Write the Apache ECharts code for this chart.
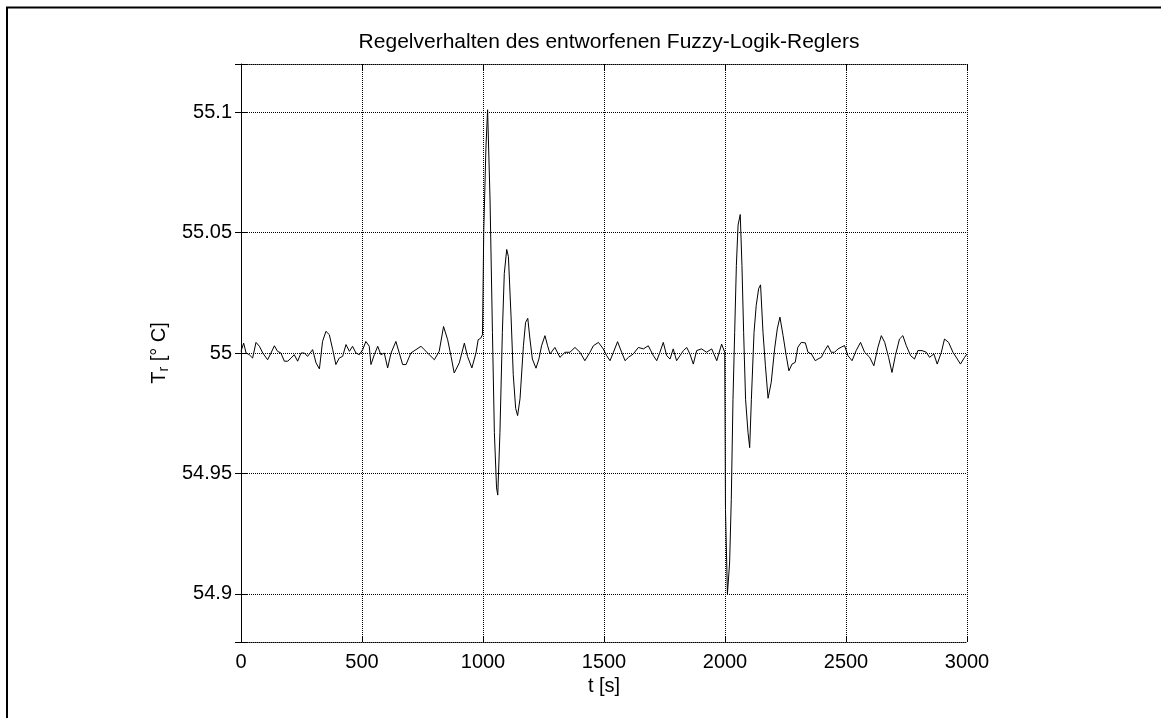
<!DOCTYPE html>
<html>
<head>
<meta charset="utf-8">
<script src="https://cdn.jsdelivr.net/npm/echarts@6/dist/echarts.min.js"></script>
<style>
html,body{margin:0;padding:0;background:#fff;}
#c{width:1161px;height:718px;}
</style>
</head>
<body>
<div id="c"></div>
<script>
// ---- data ----
var titleText = 'Regelverhalten des entworfenen Fuzzy-Logik-Reglers';
var xTicks = [0, 500, 1000, 1500, 2000, 2500, 3000];
var yTickLabels = ['54.9', '54.95', '55', '55.05', '55.1'];

// quiet phase 0 .. 1000 s
var tA = [0,11,21,34,48,62,76,90,110,124,138,151,165,179,193,207,220,234,248,262,275,296,310,324,337,351,365,379,392,406,420,434,448,461,475,489,503,516,530,537,551,565,578,592,606,620,640,654,668,682,702,723,744,757,778,799,819,837,854,868,881,902,923,936,954,971,980,991,998];
var vA = [55.0007,55.0041,55.0000,54.9993,54.9979,55.0044,55.0028,55.0000,54.9972,55.0000,55.0030,55.0007,55.0000,54.9966,54.9966,54.9979,54.9993,54.9966,55.0000,55.0000,54.9986,55.0014,54.9959,54.9934,55.0048,55.0090,55.0076,55.0014,54.9952,54.9979,54.9986,55.0035,55.0007,55.0028,55.0000,54.9993,55.0014,55.0048,55.0028,54.9952,54.9993,55.0028,54.9993,55.0000,54.9938,55.0000,55.0048,55.0000,54.9952,54.9952,55.0000,55.0014,55.0028,55.0014,54.9993,54.9972,55.0007,55.0110,55.0055,54.9986,54.9917,54.9959,55.0041,54.9986,54.9938,55.0000,55.0055,55.0062,55.0076];

// first disturbance at 1000 s
var tB = [1001,1003,1012,1019,1029,1039,1047,1056,1061,1070,1080,1088,1098,1105,1116,1125,1135,1143,1153,1167,1176,1185,1194,1204,1219,1231,1242,1256,1267];
var vB = [55.0076,55.0500,55.0850,55.1010,55.0640,55.0086,54.9670,54.9440,54.9410,54.9670,55.0086,55.0330,55.0430,55.0400,55.0150,54.9910,54.9770,54.9740,54.9810,55.0030,55.0127,55.0144,55.0058,54.9975,54.9937,54.9975,55.0030,55.0072,55.0030];

// quiet phase 1277 .. 2000 s
var tC = [1277,1297,1318,1339,1359,1380,1401,1421,1442,1456,1477,1497,1511,1525,1539,1556,1573,1587,1601,1621,1642,1663,1683,1704,1718,1731,1745,1759,1773,1786,1800,1814,1828,1842,1855,1869,1883,1903,1924,1945,1966,1986,1992,1999];
var vC = [54.9996,55.0023,54.9982,55.0003,55.0003,55.0023,55.0003,54.9968,55.0003,55.0030,55.0044,55.0017,54.9989,54.9968,55.0003,55.0047,55.0003,54.9968,54.9982,54.9996,55.0023,55.0017,55.0030,54.9989,54.9968,55.0003,55.0044,54.9989,54.9975,55.0017,54.9968,54.9989,55.0010,55.0023,54.9996,54.9954,55.0010,55.0017,55.0003,55.0017,54.9968,55.0037,55.0044,55.0003];

// second disturbance at 2000 s
var tD = [2002,2010,2016,2019,2026,2033,2040,2047,2054,2063,2070,2077,2085,2095,2102,2109,2120,2129,2139,2147,2157,2167,2178,2191,2205,2216,2227,2240,2253,2264,2277,2290];
var vD = [54.9350,54.9000,54.9000,54.9128,54.9392,54.9808,55.0086,55.0364,55.0531,55.0575,55.0364,55.0086,54.9808,54.9671,54.9607,54.9808,55.0086,55.0197,55.0267,55.0283,55.0086,54.9947,54.9812,54.9878,55.0017,55.0100,55.0149,55.0072,54.9989,54.9926,54.9954,54.9961];

// quiet phase 2300 .. 3000 s
var tE = [2301,2315,2332,2343,2357,2373,2384,2398,2412,2425,2439,2453,2467,2480,2494,2508,2525,2542,2560,2577,2598,2615,2632,2646,2660,2676,2690,2704,2721,2735,2749,2767,2783,2797,2814,2832,2845,2863,2877,2894,2907,2924,2942,2960,2973,2990,3000];
var vE = [55.0024,55.0044,55.0042,55.0003,54.9996,54.9968,54.9975,54.9982,55.0010,55.0031,55.0003,55.0003,55.0017,55.0024,55.0031,54.9989,54.9968,55.0010,55.0044,55.0003,54.9982,54.9947,55.0024,55.0072,55.0044,54.9982,54.9919,54.9989,55.0058,55.0072,55.0031,54.9989,54.9975,55.0010,55.0010,55.0003,54.9982,54.9996,54.9954,55.0003,55.0058,55.0044,55.0003,54.9975,54.9954,54.9982,54.9996];

// ---- build series data ----
var tAll = [].concat(tA, tB, tC, tD, tE);
var vAll = [].concat(vA, vB, vC, vD, vE);
var seriesData = tAll.map(function (t, i) { return [t, vAll[i]]; });

var FONT = '"Liberation Sans", Arial, Helvetica, sans-serif';
var dotted = [1, 1];

function yLabel(v) {
  var s = String(+v.toFixed(2));
  return yTickLabels.indexOf(s) >= 0 ? s : '';
}

var chart = echarts.init(document.getElementById('c'), null, {renderer: 'canvas'});
chart.setOption({
  animation: false,
  backgroundColor: '#fff',
  title: {
    text: titleText,
    left: 604, top: 27, textAlign: 'center',
    textStyle: {fontFamily: FONT, fontSize: 21, fontWeight: 'normal', color: '#000'}
  },
  graphic: [{
    type: 'rect', silent: true,
    shape: {x: 7, y: 7.5, width: 1300, height: 900},
    style: {fill: null, stroke: '#000', lineWidth: 2}
  }],
  grid: {left: 241, right: 194, top: 64, bottom: 76, containLabel: false, outerBoundsMode: 'none'},
  xAxis: [{
    type: 'value', min: 0, max: 3000, interval: 500, position: 'bottom',
    name: 't [s]', nameLocation: 'middle', nameGap: 33,
    nameTextStyle: {fontFamily: FONT, fontSize: 20, color: '#000'},
    axisLine: {show: true, lineStyle: {color: '#000', width: 1, type: dotted}},
    axisTick: {show: true, inside: true, length: 6, lineStyle: {color: '#000', width: 1}},
    axisLabel: {fontFamily: FONT, fontSize: 20, color: '#000', margin: 10,
      formatter: function (v) { return xTicks.indexOf(v) >= 0 ? String(v) : ''; }},
    splitLine: {show: true, lineStyle: {color: '#000', width: 1, type: dotted}}
  }, {
    type: 'value', min: 0, max: 3000, interval: 500, position: 'top',
    axisLine: {show: true, lineStyle: {color: '#000', width: 1, type: dotted}},
    axisTick: {show: true, inside: true, length: 6, lineStyle: {color: '#000', width: 1}},
    axisLabel: {show: false}, splitLine: {show: false}
  }],
  yAxis: [{
    type: 'value', min: 54.88, max: 55.12, splitNumber: 5, position: 'left',
    name: 'T{sub|r} [° C]', nameLocation: 'middle', nameGap: 68, nameRotate: 90,
    nameTextStyle: {fontFamily: FONT, fontSize: 20, color: '#000',
      rich: {sub: {fontFamily: FONT, fontSize: 14, color: '#000', verticalAlign: 'bottom', padding: [10, 0, 0, 0]}}},
    axisLine: {show: true, lineStyle: {color: '#000', width: 1}},
    axisTick: {show: true, inside: true, length: 6, lineStyle: {color: '#000', width: 1}},
    axisLabel: {fontFamily: FONT, fontSize: 20, color: '#000', margin: 9, formatter: yLabel},
    splitLine: {show: true, lineStyle: {color: '#000', width: 1, type: dotted}}
  }, {
    type: 'value', min: 54.88, max: 55.12, splitNumber: 5, position: 'right',
    axisLine: {show: true, lineStyle: {color: '#000', width: 1, type: dotted}},
    axisTick: {show: true, inside: true, length: 6, lineStyle: {color: '#000', width: 1}},
    axisLabel: {show: false}, splitLine: {show: false}
  }],
  series: [{
    type: 'line', xAxisIndex: 0, yAxisIndex: 0,
    data: seriesData, showSymbol: false, symbol: 'none',
    lineStyle: {color: '#000', width: 1}, silent: true
  }]
});
</script>
</body>
</html>
